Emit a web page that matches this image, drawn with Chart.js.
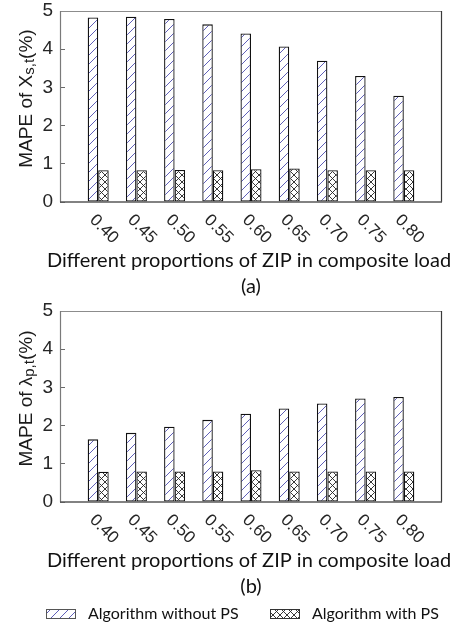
<!DOCTYPE html>
<html>
<head>
<meta charset="utf-8">
<script src="https://cdn.jsdelivr.net/npm/chart.js@4"></script>
<style>
  body { margin: 0; background: #fff; }
  canvas { display: block; }
</style>
</head>
<body>
<canvas id="chartA" width="461" height="300"></canvas>
<canvas id="chartB" width="461" height="324"></canvas>
<script>
var categories = ["0.40", "0.45", "0.50", "0.55", "0.60", "0.65", "0.70", "0.75", "0.80"];
var seriesNames = ["Algorithm without PS", "Algorithm with PS"];

/* (a) MAPE of Xs,t */
var withoutPsA = [4.83, 4.85, 4.79, 4.65, 4.41, 4.07, 3.70, 3.30, 2.78];
var withPsA = [0.83, 0.83, 0.84, 0.83, 0.86, 0.88, 0.83, 0.83, 0.83];

/* (b) MAPE of lambda p,t */
var withoutPsB = [1.64, 1.81, 1.97, 2.15, 2.31, 2.45, 2.58, 2.71, 2.75];
var withPsB = [0.79, 0.80, 0.80, 0.80, 0.83, 0.80, 0.80, 0.80, 0.80];

var yMin = 0, yMax = 5, yStep = 1;
var xTitle = "Different proportions of ZIP in composite load";

var sansFont = "Lato";
var tickFont = "'Liberation Sans', Arial";

/* padroes de preenchimento */
function hatchPattern() {
	var c = document.createElement("canvas");
	c.width = 9; c.height = 9;
	var g = c.getContext("2d");
	g.fillStyle = "#fff";
	g.fillRect(0, 0, 9, 9);
	g.strokeStyle = "#6060b8";
	g.lineWidth = 1;
	g.beginPath();
	g.moveTo(-1, 10); g.lineTo(10, -1);
	g.moveTo(-1, 1); g.lineTo(1, -1);
	g.moveTo(8, 10); g.lineTo(10, 8);
	g.stroke();
	return g.createPattern(c, "repeat");
}

function crossPattern() {
	var c = document.createElement("canvas");
	c.width = 7; c.height = 7;
	var g = c.getContext("2d");
	g.fillStyle = "#fff";
	g.fillRect(0, 0, 7, 7);
	g.strokeStyle = "#222";
	g.lineWidth = 0.9;
	g.beginPath();
	g.moveTo(0, 0); g.lineTo(7, 7);
	g.moveTo(7, 0); g.lineTo(0, 7);
	g.stroke();
	return g.createPattern(c, "repeat");
}

var hatch = hatchPattern();
var cross = crossPattern();

/* uma categoria vazia de cada lado */
function padded(arr) {
	return [null].concat(arr, [null]);
}

/* desenha moldura, rotulos e titulos */
var decorPlugin = {
	id: "decor",
	afterDraw: function(chart) {
		var ctx = chart.ctx;
		var a = chart.chartArea;
		var xs = chart.scales.x;
		var o = chart.options.plugins.decor;
		ctx.save();

		// moldura
		ctx.lineWidth = 1.2;
		ctx.strokeStyle = "#8c8c8c";
		ctx.beginPath(); ctx.moveTo(a.left, a.top + 0.5); ctx.lineTo(a.right, a.top + 0.5); ctx.stroke();
		ctx.strokeStyle = "#3a3a3a";
		ctx.beginPath(); ctx.moveTo(a.right - 0.5, a.top); ctx.lineTo(a.right - 0.5, a.bottom); ctx.stroke();
		ctx.strokeStyle = "#7a7a7a";
		ctx.beginPath(); ctx.moveTo(a.left + 0.5, a.top); ctx.lineTo(a.left + 0.5, a.bottom); ctx.stroke();
		ctx.strokeStyle = "#595959";
		ctx.lineWidth = 1.5;
		ctx.beginPath(); ctx.moveTo(a.left, a.bottom); ctx.lineTo(a.right, a.bottom); ctx.stroke();

		// rotulos do eixo x, rodados
		ctx.fillStyle = "#262626";
		ctx.font = "17px " + tickFont;
		ctx.textAlign = "left";
		ctx.textBaseline = "middle";
		for (var i = 1; i <= categories.length; i++) {
			var px = xs.getPixelForTick(i);
			ctx.save();
			ctx.translate(px - 6, a.bottom + 15.5);
			ctx.rotate(Math.PI / 4);
			ctx.fillText(chart.data.labels[i], 0, 0);
			ctx.restore();
		}

		// titulo x e legenda (a)/(b)
		ctx.fillStyle = "#111";
		ctx.font = "20px " + sansFont;
		ctx.textAlign = "center";
		ctx.fillText(xTitle, (a.left + a.right) / 2 - 2, a.bottom + 59);
		ctx.fillText(o.caption, (a.left + a.right) / 2, a.bottom + 85);

		// titulo y com indice
		ctx.save();
		ctx.translate(25, (a.top + a.bottom) / 2 - 8);
		ctx.rotate(-Math.PI / 2);
		ctx.textAlign = "left";
		ctx.textBaseline = "alphabetic";
		var big = "19px " + tickFont, small = "15px " + tickFont;
		ctx.font = big; var w1 = ctx.measureText(o.yMain).width; var w3 = ctx.measureText("(%)").width;
		ctx.font = small; var w2 = ctx.measureText(o.ySub).width;
		var x0 = -(w1 + w2 + w3) / 2;
		ctx.fillStyle = "#1a1a1a";
		ctx.font = big; ctx.fillText(o.yMain, x0, 7);
		ctx.font = small; ctx.fillText(o.ySub, x0 + w1, 9);
		ctx.font = big; ctx.fillText("(%)", x0 + w1 + w2, 7);
		ctx.restore();

		// legenda
		if (o.legend) {
			var ly = a.bottom + 112;
			var items = [[46, hatch, "#555"], [270, cross, "#333"]];
			ctx.font = "16px " + sansFont;
			ctx.textAlign = "left";
			ctx.textBaseline = "middle";
			items.forEach(function(it, k) {
				ctx.fillStyle = it[1];
				ctx.fillRect(it[0], ly - 5, 30, 10);
				ctx.strokeStyle = it[2];
				ctx.lineWidth = 1;
				ctx.strokeRect(it[0] + 0.5, ly - 4.5, 29, 9);
				ctx.fillStyle = "#111";
				ctx.fillText(seriesNames[k], it[0] + 42, ly);
			});
		}
		ctx.restore();
	}
};

function makeChart(id, valsWithout, valsWith, yMain, ySub, caption, legend) {
	var h = document.getElementById(id).height;
	return new Chart(document.getElementById(id), {
		type: "bar",
		data: {
			labels: padded(categories).map(function(v) { return v || ""; }),
			datasets: [{
				label: seriesNames[0],
				data: padded(valsWithout),
				backgroundColor: hatch,
				borderColor: "#111",
				borderWidth: 1.3,
				borderSkipped: false,
				categoryPercentage: 0.55,
				barPercentage: 1.0
			}, {
				label: seriesNames[1],
				data: padded(valsWith),
				backgroundColor: cross,
				borderColor: "#111",
				borderWidth: 1.3,
				borderSkipped: false,
				categoryPercentage: 0.55,
				barPercentage: 1.0
			}]
		},
		options: {
			responsive: false,
			animation: false,
			devicePixelRatio: 1,
			layout: { padding: { left: 0, right: 19, top: 11, bottom: 0 } },
			plugins: {
				legend: { display: false },
				tooltip: { enabled: false },
				decor: { yMain: yMain, ySub: ySub, caption: caption, legend: legend }
			},
			scales: {
				x: {
					offset: false,
					grid: { display: false },
					border: { display: false },
					ticks: { display: false },
					afterFit: function(s) { s.height = h - 202; s.paddingLeft = 0; s.paddingRight = 0; }
				},
				y: {
					min: yMin,
					max: yMax,
					grid: { drawOnChartArea: false, tickLength: -5, color: "#6a6a6a" },
					border: { display: false },
					ticks: {
						stepSize: yStep,
						padding: 12,
						color: "#262626",
						font: { family: tickFont, size: 19 }
					},
					afterFit: function(s) { s.width = 60; s.paddingTop = 0; s.paddingBottom = 0; }
				}
			}
		},
		plugins: [decorPlugin]
	});
}

makeChart("chartA", withoutPsA, withPsA, "MAPE of X", "s,t", "(a)", false);
makeChart("chartB", withoutPsB, withPsB, "MAPE of \u03bb", "p,t", "(b)", true);
</script>
</body>
</html>
